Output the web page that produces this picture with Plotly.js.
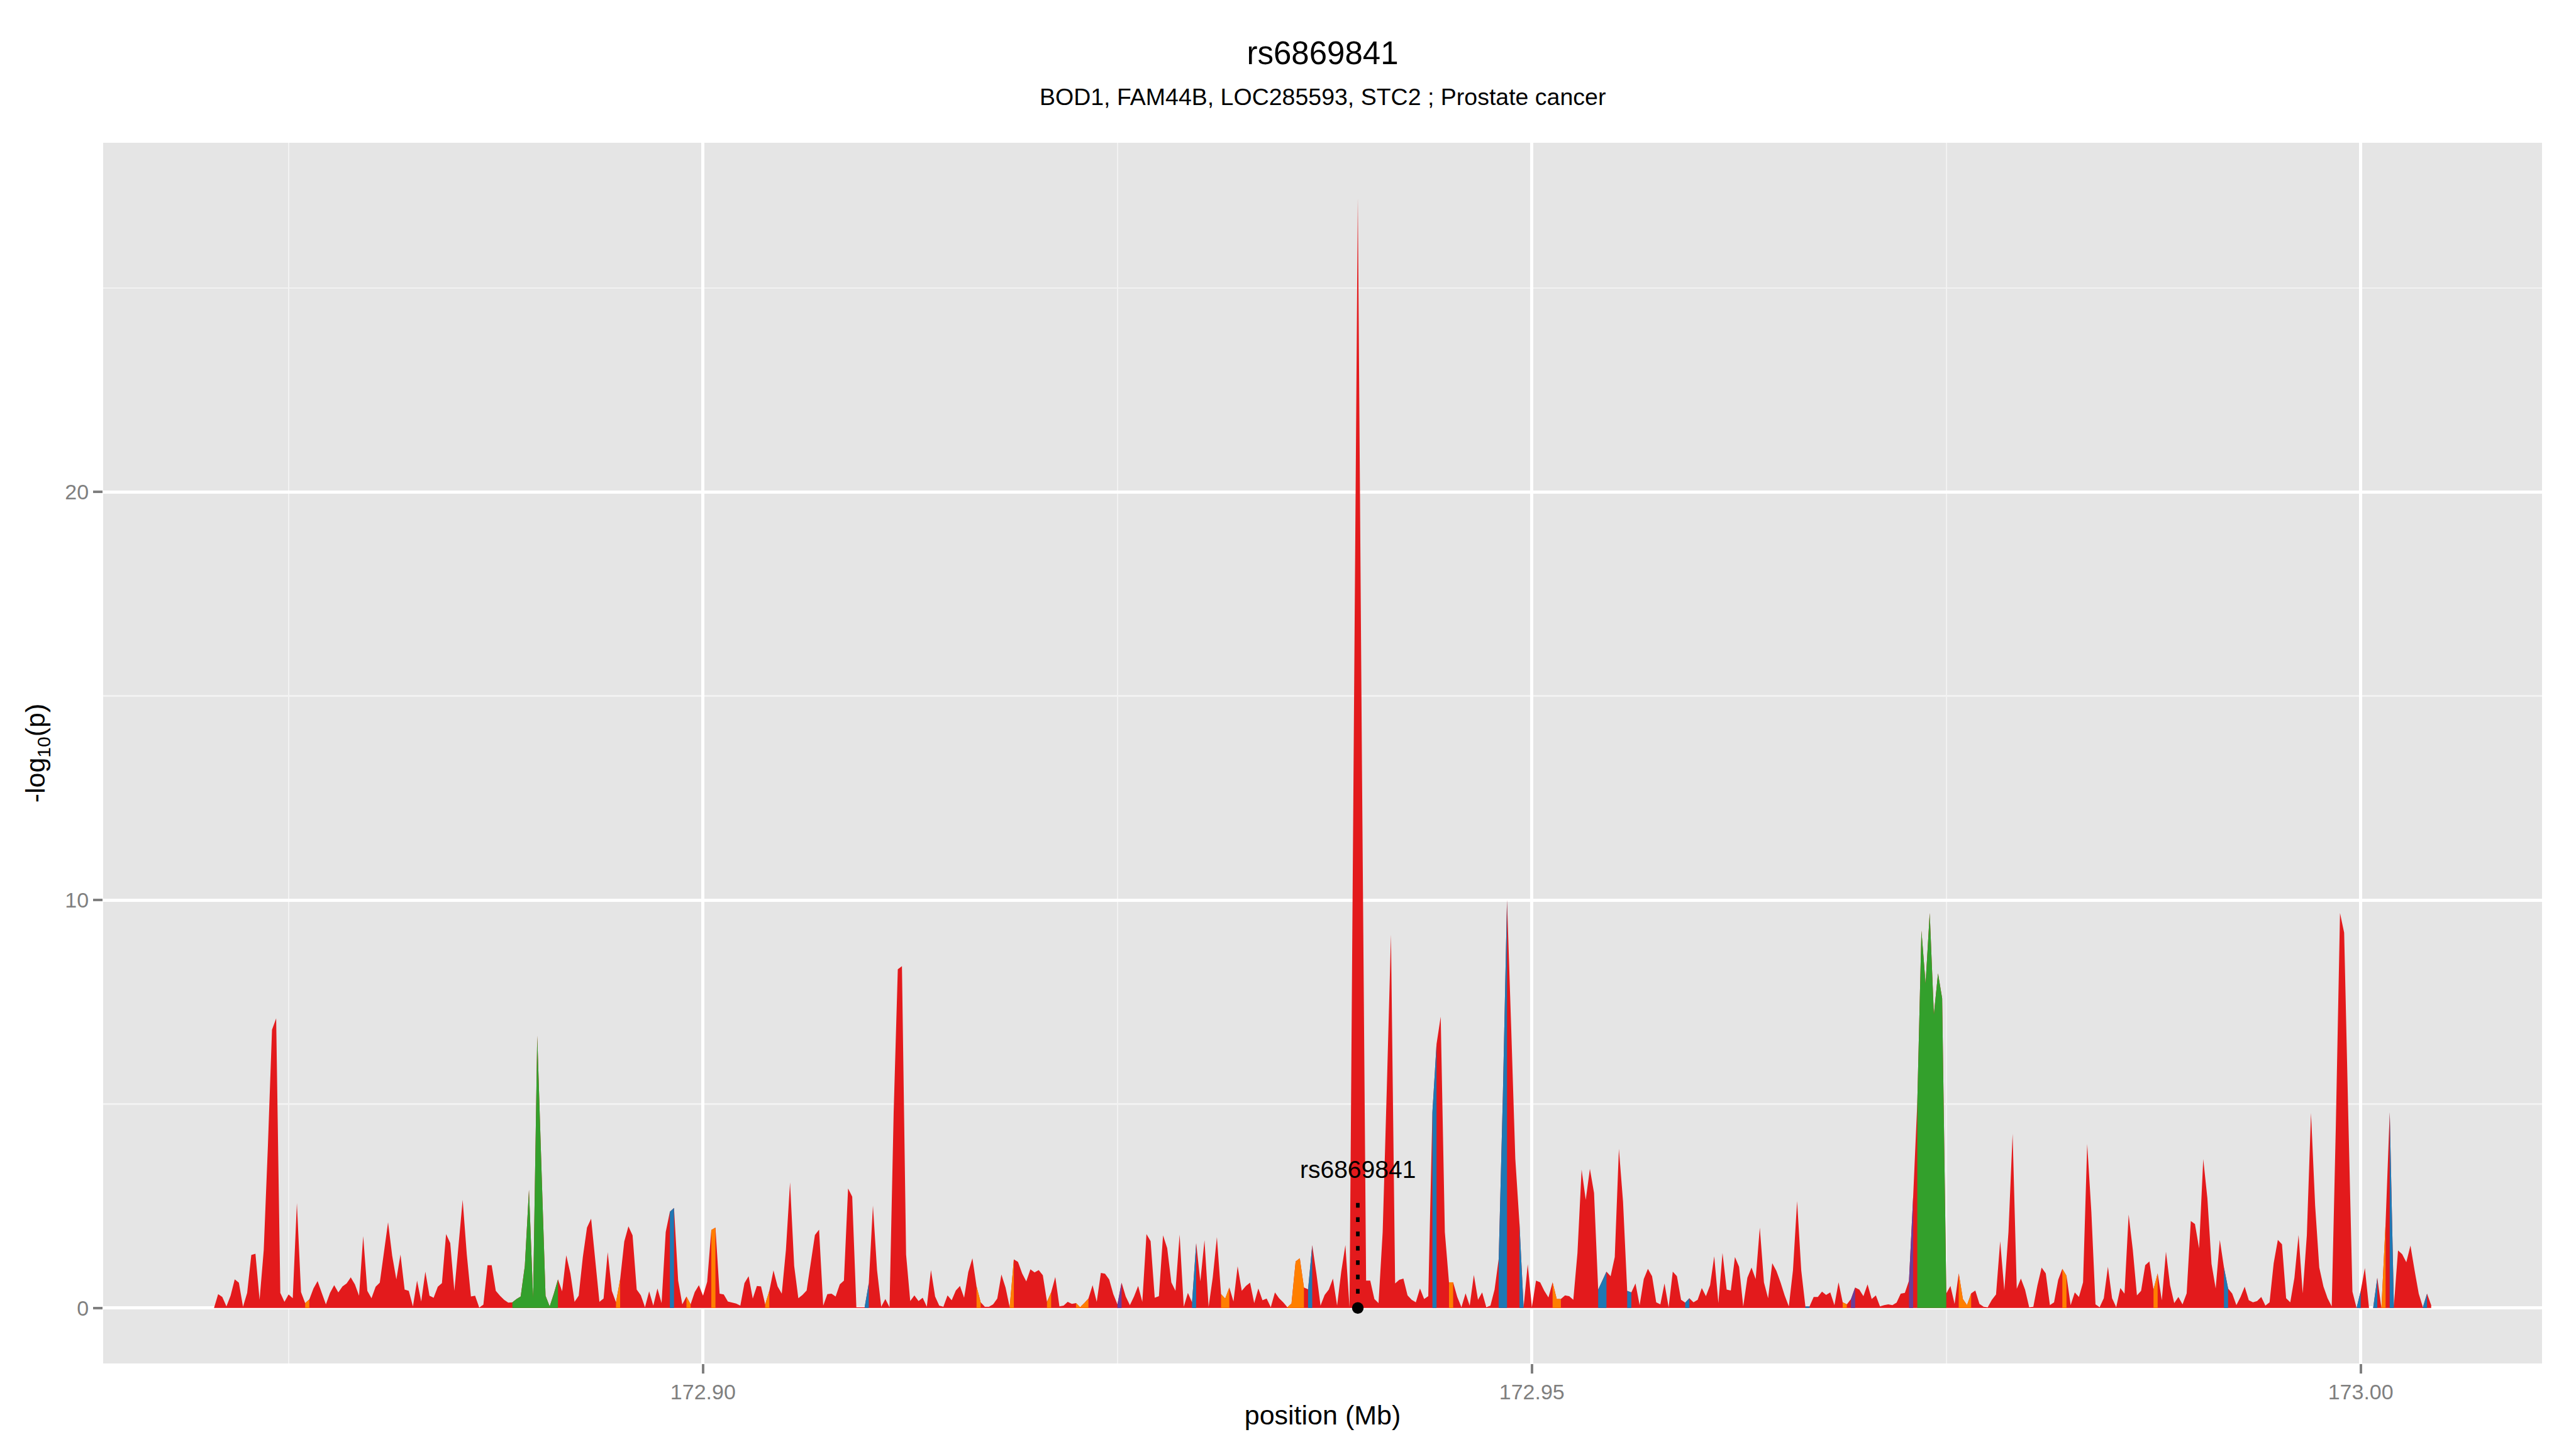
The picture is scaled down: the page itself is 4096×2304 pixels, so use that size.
<!DOCTYPE html>
<html><head><meta charset="utf-8">
<script src="https://cdn.plot.ly/plotly-3.0.1.min.js"></script>
<style>html,body{margin:0;padding:0;background:#fff}#chart{width:4096px;height:2304px}</style>
</head><body><div id="chart"></div>
<script>
// SNP positions (Mb)
const positionMb = [
172.8705,172.87075,172.871,172.87125,172.8715,172.87175,172.872,172.87225,
172.8725,172.87275,172.873,172.87325,172.8735,172.87375,172.874,172.87425,
172.8745,172.87475,172.875,172.87525,172.8755,172.87575,172.876,172.87625,
172.8765,172.87675,172.877,172.87725,172.8775,172.87775,172.878,172.87825,
172.8785,172.87875,172.879,172.87925,172.8795,172.87975,172.88,172.88025,
172.8805,172.88075,172.881,172.88125,172.8815,172.88175,172.882,172.88225,
172.8825,172.88275,172.883,172.88325,172.8835,172.88375,172.884,172.88425,
172.8845,172.88475,172.885,172.88525,172.8855,172.88575,172.886,172.88625,
172.8865,172.88675,172.887,172.88725,172.8875,172.88775,172.888,172.88825,
172.8885,172.88875,172.889,172.88925,172.8895,172.88975,172.89,172.89025,
172.8905,172.89075,172.891,172.89125,172.8915,172.89175,172.892,172.89225,
172.8925,172.89275,172.893,172.89325,172.8935,172.89375,172.894,172.89425,
172.8945,172.89475,172.895,172.89525,172.8955,172.89575,172.896,172.89625,
172.8965,172.89675,172.897,172.89725,172.8975,172.89775,172.898,172.89825,
172.8985,172.89875,172.899,172.89925,172.8995,172.89975,172.9,172.90025,
172.9005,172.90075,172.901,172.90125,172.9015,172.90175,172.902,172.90225,
172.9025,172.90275,172.903,172.90325,172.9035,172.90375,172.904,172.90425,
172.9045,172.90475,172.905,172.90525,172.9055,172.90575,172.906,172.90625,
172.9065,172.90675,172.907,172.90725,172.9075,172.90775,172.908,172.90825,
172.9085,172.90875,172.909,172.90925,172.9095,172.90975,172.91,172.91025,
172.9105,172.91075,172.911,172.91125,172.9115,172.91175,172.912,172.91225,
172.9125,172.91275,172.913,172.91325,172.9135,172.91375,172.914,172.91425,
172.9145,172.91475,172.915,172.91525,172.9155,172.91575,172.916,172.91625,
172.9165,172.91675,172.917,172.91725,172.9175,172.91775,172.918,172.91825,
172.9185,172.91875,172.919,172.91925,172.9195,172.91975,172.92,172.92025,
172.9205,172.92075,172.921,172.92125,172.9215,172.92175,172.922,172.92225,
172.9225,172.92275,172.923,172.92325,172.9235,172.92375,172.924,172.92425,
172.9245,172.92475,172.925,172.92525,172.9255,172.92575,172.926,172.92625,
172.9265,172.92675,172.927,172.92725,172.9275,172.92775,172.928,172.92825,
172.9285,172.92875,172.929,172.92925,172.9295,172.92975,172.93,172.93025,
172.9305,172.93075,172.931,172.93125,172.9315,172.93175,172.932,172.93225,
172.9325,172.93275,172.933,172.93325,172.9335,172.93375,172.934,172.93425,
172.9345,172.93475,172.935,172.93525,172.9355,172.93575,172.936,172.93625,
172.9365,172.93675,172.937,172.93725,172.9375,172.93775,172.938,172.93825,
172.9385,172.93875,172.939,172.93925,172.9395,172.93975,172.94,172.94025,
172.9405,172.94075,172.941,172.94125,172.9415,172.94175,172.942,172.94225,
172.9425,172.94275,172.943,172.94325,172.9435,172.94375,172.944,172.94425,
172.9445,172.94475,172.945,172.94525,172.9455,172.94575,172.946,172.94625,
172.9465,172.94675,172.947,172.94725,172.9475,172.94775,172.948,172.94825,
172.9485,172.94875,172.949,172.94925,172.9495,172.94975,172.95,172.95025,
172.9505,172.95075,172.951,172.95125,172.9515,172.95175,172.952,172.95225,
172.9525,172.95275,172.953,172.95325,172.9535,172.95375,172.954,172.95425,
172.9545,172.95475,172.955,172.95525,172.9555,172.95575,172.956,172.95625,
172.9565,172.95675,172.957,172.95725,172.9575,172.95775,172.958,172.95825,
172.9585,172.95875,172.959,172.95925,172.9595,172.95975,172.96,172.96025,
172.9605,172.96075,172.961,172.96125,172.9615,172.96175,172.962,172.96225,
172.9625,172.96275,172.963,172.96325,172.9635,172.96375,172.964,172.96425,
172.9645,172.96475,172.965,172.96525,172.9655,172.96575,172.966,172.96625,
172.9665,172.96675,172.967,172.96725,172.9675,172.96775,172.968,172.96825,
172.9685,172.96875,172.969,172.96925,172.9695,172.96975,172.97,172.97025,
172.9705,172.97075,172.971,172.97125,172.9715,172.97175,172.972,172.97225,
172.9725,172.97275,172.973,172.97325,172.9735,172.97375,172.974,172.97425,
172.9745,172.97475,172.975,172.97525,172.9755,172.97575,172.976,172.97625,
172.9765,172.97675,172.977,172.97725,172.9775,172.97775,172.978,172.97825,
172.9785,172.97875,172.979,172.97925,172.9795,172.97975,172.98,172.98025,
172.9805,172.98075,172.981,172.98125,172.9815,172.98175,172.982,172.98225,
172.9825,172.98275,172.983,172.98325,172.9835,172.98375,172.984,172.98425,
172.9845,172.98475,172.985,172.98525,172.9855,172.98575,172.986,172.98625,
172.9865,172.98675,172.987,172.98725,172.9875,172.98775,172.988,172.98825,
172.9885,172.98875,172.989,172.98925,172.9895,172.98975,172.99,172.99025,
172.9905,172.99075,172.991,172.99125,172.9915,172.99175,172.992,172.99225,
172.9925,172.99275,172.993,172.99325,172.9935,172.99375,172.994,172.99425,
172.9945,172.99475,172.995,172.99525,172.9955,172.99575,172.996,172.99625,
172.9965,172.99675,172.997,172.99725,172.9975,172.99775,172.998,172.99825,
172.9985,172.99875,172.999,172.99925,172.9995,172.99975,173,173.00025,
173.0005,173.00075,173.001,173.00125,173.0015,173.00175,173.002,173.00225,
173.0025,173.00275,173.003,173.00325,173.0035,173.00375,173.004,173.00425
];

// -log10(p) at each position
const logP = [
// 172.8705 - 172.89225
0,0.34,0.27,0.04,0.30,0.70,0.62,0.03,
0.37,1.30,1.33,0.20,1.42,3.96,6.82,7.10,
0.37,0.15,0.33,0.24,2.57,0.39,0.12,0.21,
0.48,0.66,0.37,0.09,0.37,0.56,0.38,0.53,
0.60,0.75,0.58,0.30,1.76,0.42,0.24,0.52,
0.62,1.39,2.10,1.28,0.70,1.31,0.45,0.42,
0.04,0.67,0.16,0.89,0.30,0.25,0.52,0.61,
1.81,1.59,0.42,1.53,2.65,1.31,0.28,0.30,
0.01,0.08,1.05,1.05,0.42,0.30,0.20,0.13,
0.14,0.22,0.28,1.03,2.90,0.25,6.67,3.46,
0.30,0.04,0.35,0.70,0.41,1.29,0.85,0.15,
// 172.8925 - 172.91525
0.30,1.25,1.97,2.19,1.19,0.15,0.23,1.37,
0.42,0.14,0.70,1.63,2.00,1.78,0.45,0.31,
0.02,0.41,0.06,0.48,0.12,1.86,2.36,2.45,
0.67,0.09,0.28,0.09,0.39,0.56,0.30,0.64,
1.91,1.97,0.35,0.33,0.16,0.13,0.11,0.06,
0.61,0.78,0.23,0.54,0.53,0.09,0.42,0.92,
0.53,0.35,1.42,3.08,1.03,0.24,0.32,0.43,
1.14,1.79,1.92,0.06,0.34,0.35,0.28,0.58,
0.67,2.93,2.73,0.02,0.02,0.02,0.61,2.51,
0.92,0.03,0.22,0.02,4.79,8.30,8.38,1.31,
0.17,0.31,0.17,0.25,0.03,0.93,0.28,0.06,
0.03,0.31,0.19,0.43,
// 172.9155 - 172.9385
0.54,0.25,0.88,1.22,0.53,0.14,0.03,0.03,
0.09,0.23,0.82,0.50,0.02,1.19,1.13,0.85,
0.65,0.95,0.87,0.93,0.80,0.15,0.38,0.76,
0.04,0.06,0.15,0.10,0.12,0.02,0.12,0.23,
0.56,0.15,0.86,0.84,0.70,0.34,0.09,0.62,
0.28,0.07,0.28,0.54,0.15,1.81,1.64,0.25,
0.29,1.78,1.47,0.63,0.42,1.80,0.03,0.37,
0.14,1.59,0.65,1.66,0.03,0.75,1.74,0.34,
0.23,0.50,0.16,1.02,0.42,0.54,0.62,0.12,
0.48,0.19,0.23,0.02,0.38,0.24,0.14,0.02,
0.11,1.14,1.22,0.50,0.46,1.54,0.85,0.06,
0.32,0.45,0.72,0.06,0.89,
// 172.93875 - 172.96025
1.54,0.02,13.6,27.2,13.3,0.67,0.67,0.22,
0.12,1.86,5.4,9.15,0.60,0.69,0.72,0.31,
0.20,0.14,0.48,0.22,0.29,4.80,6.47,7.14,
1.86,0.63,0.63,0.27,0.02,0.36,0.06,0.81,
0.20,0.38,0.02,0.06,0.45,1.21,5.20,10.0,
6.90,3.66,2.08,0.02,1.07,0.02,0.67,0.63,
0.42,0.26,0.63,0.22,0.22,0.31,0.29,0.20,
1.35,3.39,2.65,3.41,2.82,0.45,0.67,0.89,
0.78,1.25,3.90,2.60,0.42,0.38,0.60,0.07,
0.71,0.96,0.78,0.14,0.09,0.60,0.02,0.89,
0.78,0.20,0.13,0.24,0.14,0.20,0.49,
// 172.9605 - 172.983
0.29,0.56,1.27,0.12,1.35,0.45,0.43,1.25,
1.01,0.04,0.74,0.99,0.71,1.97,0.63,0.24,
1.10,0.91,0.63,0.31,0.04,0.92,2.62,0.92,
0.04,0.04,0.27,0.27,0.40,0.32,0.38,0.07,
0.63,0.14,0.09,0.22,0.50,0.45,0.29,0.58,
0.22,0.31,0.04,0.07,0.09,0.07,0.13,0.35,
0.37,0.67,2.72,5.03,9.25,7.95,9.68,7.19,
8.20,7.59,0.36,0.54,0.10,0.85,0.22,0.07,
0.36,0.43,0.10,0.03,0.02,0.20,0.33,1.64,
0.43,1.86,4.27,0.47,0.72,0.45,0.02,0.03,
0.56,0.99,0.85,0.07,0.14,0.69,0.96,0.79,
0.07,0.38,0.27,
// 172.98325 - 173.00425
0.63,4.02,2.36,0.09,0.02,0.24,1.01,0.24,
0.02,0.49,0.35,2.29,1.43,0.31,0.42,1.05,
1.14,0.45,0.85,0.19,1.38,0.56,0.12,0.27,
0.09,0.36,2.13,2.06,1.46,3.65,2.69,1.08,
0.48,1.67,0.99,0.48,0.35,0.07,0.27,0.52,
0.19,0.14,0.17,0.27,0.06,0.14,1.10,1.67,
1.56,0.24,0.14,0.74,1.79,0.36,1.79,4.78,
2.51,0.99,0.53,0.24,0.04,4.50,9.68,9.20,
4.70,0.40,0.00,0.42,0.98,0.00,0.00,0.74,
0.00,2.08,4.80,0.05,1.41,1.32,1.12,1.53,
0.92,0.35,0.02,0.35,0.07
];

// start positions (Mb) of the intervals drawn in each LD colour (the rest is red)
const blueStarts = [172.898,172.90975,172.9295,172.9365,172.944,172.948,172.94825,172.94925,172.954,172.95425,172.95575,172.95925,172.9665,172.99175,172.99975,173.00075,173.00175,173.00375];
const greenStarts = [172.8885,172.88875,172.889,172.88925,172.8895,172.88975,172.89,172.89025,172.8905,172.89075,172.891,172.97325,172.9735,172.97375,172.974,172.97425,172.9745,172.97475];
const orangeStarts = [172.876,172.89475,172.899,172.9005,172.90375,172.9165,172.9185,172.92075,172.9225,172.92275,172.923,172.93125,172.9315,172.93525,172.9355,172.93575,172.936,172.945,172.95125,172.9515,172.96875,172.97575,172.976,172.97625,172.982,172.9875,173.00125];
const purpleStarts = [172.925,172.96925,172.97275];

const leadSnpName = 'rs6869841';
const leadSnpMb = 172.9395;
const subtitleText = 'BOD1, FAM44B, LOC285593, STC2 ; Prostate cancer';

const RED = '#E31A1C', BLUE = '#1F78B4', GREEN = '#33A02C', ORANGE = '#FF7F00', PURPLE = '#6A3D9A';

if (positionMb.length !== logP.length) console.error('length mismatch', positionMb.length, logP.length);

function idxOf(p) {
  for (let i = 0; i < positionMb.length; i++) if (Math.abs(positionMb[i] - p) < 1e-7) return i;
  return -1;
}
function areaTrace(xs, ys, color) {
  return {x: xs, y: ys, type: 'scatter', mode: 'lines', fill: 'tozeroy', fillcolor: color,
          line: {width: 0, color: color}, hoverinfo: 'skip'};
}
// one filled trace per contiguous run of coloured intervals
function segTraces(starts, color) {
  const idx = starts.map(idxOf).filter(i => i >= 0 && i < positionMb.length - 1).sort((a, b) => a - b);
  const out = [];
  let xs = null, ys = null, prev = -10;
  idx.forEach(i => {
    if (i !== prev + 1) {
      if (xs) out.push(areaTrace(xs, ys, color));
      xs = [positionMb[i]]; ys = [logP[i]];
    }
    xs.push(positionMb[i + 1]); ys.push(logP[i + 1]);
    prev = i;
  });
  if (xs) out.push(areaTrace(xs, ys, color));
  return out;
}

const traces = [areaTrace(positionMb, logP, RED)]
  .concat(segTraces(orangeStarts, ORANGE))
  .concat(segTraces(blueStarts, BLUE))
  .concat(segTraces(greenStarts, GREEN))
  .concat(segTraces(purpleStarts, PURPLE))
  .concat([
    {x: [leadSnpMb, leadSnpMb], y: [0, 2.72], type: 'scatter', mode: 'lines',
     line: {color: '#000', width: 5.7, dash: '7.4px,15.4px'}, hoverinfo: 'skip'},
    {x: [leadSnpMb], y: [0], type: 'scatter', mode: 'markers',
     marker: {color: '#000', size: 18.5}, hoverinfo: 'skip'}
  ]);

const FONT = 'Liberation Sans, Arial, Helvetica, sans-serif';
const layout = {
  width: 4096, height: 2304,
  margin: {l: 164, r: 54, t: 227, b: 136},
  paper_bgcolor: '#FFFFFF', plot_bgcolor: '#E5E5E5',
  font: {family: FONT, color: '#000000'},
  showlegend: false,
  title: {text: leadSnpName, font: {family: FONT, size: 51, color: '#000'},
          x: 0.5, xref: 'paper', xanchor: 'center', y: 1 - 84 / 2304, yref: 'container', yanchor: 'middle'},
  xaxis: {
    range: [172.8638125, 173.0109375], tickmode: 'array',
    tickvals: [172.90, 172.95, 173.00], ticktext: ['172.90', '172.95', '173.00'],
    ticks: 'outside', ticklen: 15, tickwidth: 3.8, tickcolor: '#7F7F7F',
    tickfont: {family: FONT, size: 34, color: '#7F7F7F'},
    showgrid: true, gridcolor: '#FFFFFF', gridwidth: 5, zeroline: false, showline: false,
    minor: {tickmode: 'array', tickvals: [172.875, 172.925, 172.975], showgrid: true, gridcolor: '#F2F2F2', gridwidth: 2.4, ticks: ''},
    title: {text: 'position (Mb)', font: {family: FONT, size: 43, color: '#000'}, standoff: 4}
  },
  yaxis: {
    range: [-1.36, 28.56], tickmode: 'array',
    tickvals: [0, 10, 20], ticktext: ['0', '10', '20'],
    ticks: 'outside', ticklen: 15, tickwidth: 3.8, tickcolor: '#7F7F7F',
    tickfont: {family: FONT, size: 34, color: '#7F7F7F'},
    showgrid: true, gridcolor: '#FFFFFF', gridwidth: 5, zeroline: false, showline: false,
    minor: {tickmode: 'array', tickvals: [5, 15, 25], showgrid: true, gridcolor: '#F2F2F2', gridwidth: 2.4, ticks: ''},
    title: {text: '-log<sub>10</sub>(p)', font: {family: FONT, size: 43, color: '#000'}, standoff: 18}
  },
  annotations: [
    {text: subtitleText, xref: 'paper', yref: 'paper', x: 0.5, y: 1 + (227 - 153.5) / 1941,
     xanchor: 'center', yanchor: 'middle', showarrow: false, font: {family: FONT, size: 37.5, color: '#000'}},
    {text: leadSnpName, xref: 'x', yref: 'y', x: leadSnpMb, y: 3.4, xanchor: 'center', yanchor: 'middle',
     showarrow: false, font: {family: FONT, size: 39, color: '#000'}}
  ]
};

Plotly.newPlot('chart', traces, layout, {staticPlot: true, displayModeBar: false});
</script>
</body></html>
